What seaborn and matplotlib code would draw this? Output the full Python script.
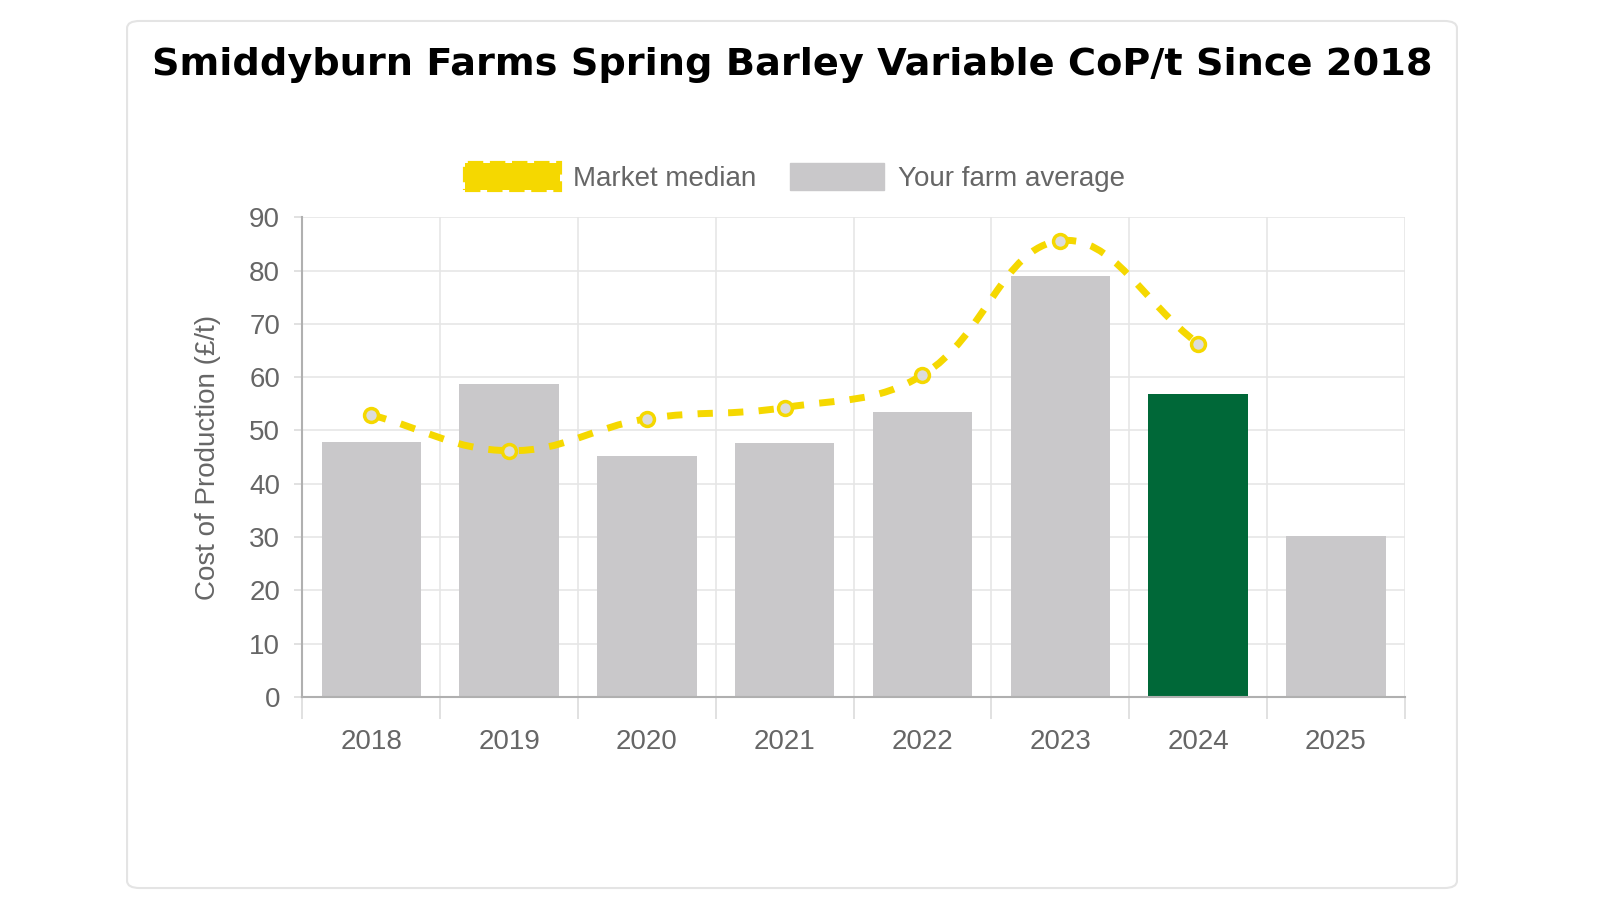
import numpy as np
import pandas as pd
import matplotlib
matplotlib.use("Agg")
import matplotlib.pyplot as plt
from matplotlib.path import Path
from matplotlib.patches import PathPatch, Patch, FancyBboxPatch
import seaborn as sns

# data
years = ["2018", "2019", "2020", "2021", "2022", "2023", "2024", "2025"]
farm_avg = [47.8, 58.7, 45.3, 47.6, 53.5, 78.9, 56.8, 30.2]
market_median = [52.9, 46.2, 52.2, 54.3, 60.4, 85.6, 66.3]
highlight_year = "2024"

GREY = "#c9c8ca"
GREEN = "#006838"
YELLOW = "#f5d800"
TXT = "#666666"

sns.set_style("white")
plt.rcParams["font.family"] = ["Liberation Sans", "DejaVu Sans"]

df = pd.DataFrame({"year": years, "cost": farm_avg})
palette = {y: (GREEN if y == highlight_year else GREY) for y in years}

fig = plt.figure(figsize=(16, 9), dpi=100)
# card border
fig.patches.append(FancyBboxPatch((0.0794, 0.0133), 0.8312, 0.9634,
                                  boxstyle="round,pad=0,rounding_size=0.008",
                                  transform=fig.transFigure, facecolor="none",
                                  edgecolor="#e4e4e4", linewidth=1.5, zorder=-1))
fig.text(0.495, 0.928, "Smiddyburn Farms Spring Barley Variable CoP/t Since 2018",
         ha="center", va="center", fontsize=27.5, fontweight="bold",
         family=["DejaVu Sans"], color="black")

ax = fig.add_axes([0.189, 0.2256, 0.689, 0.533])
ax.set_facecolor("none")
sns.barplot(data=df, x="year", y="cost", hue="year", palette=palette,
            order=years, width=0.72, legend=False, ax=ax, zorder=2,
            edgecolor="none", saturation=1)

# smoothed market median line (Chart.js style bezier, tension 0.4)
xs = np.arange(len(market_median), dtype=float)
ys = np.array(market_median, dtype=float)
sx, sy = 138.0, 5.33  # px per unit, used for distances
tension = 0.4
cp_prev, cp_next = [], []
for i in range(len(xs)):
    p = np.array([xs[max(i - 1, 0)], ys[max(i - 1, 0)]])
    c = np.array([xs[i], ys[i]])
    n = np.array([xs[min(i + 1, len(xs) - 1)], ys[min(i + 1, len(xs) - 1)]])
    d01 = np.hypot((c[0] - p[0]) * sx, (c[1] - p[1]) * sy)
    d12 = np.hypot((n[0] - c[0]) * sx, (n[1] - c[1]) * sy)
    tot = d01 + d12 if d01 + d12 > 0 else 1
    fa, fb = tension * d01 / tot, tension * d12 / tot
    cp_prev.append(c - fa * (n - p))
    cp_next.append(c + fb * (n - p))
verts = [(xs[0], ys[0])]
codes = [Path.MOVETO]
for i in range(len(xs) - 1):
    verts += [tuple(cp_next[i]), tuple(cp_prev[i + 1]), (xs[i + 1], ys[i + 1])]
    codes += [Path.CURVE4] * 3
ax.add_patch(PathPatch(Path(verts, codes), facecolor="none", edgecolor=YELLOW,
                       linewidth=5, linestyle=(0, (2.2, 2.2)), zorder=4,
                       capstyle="butt"))
ax.plot(xs, ys, linestyle="none", marker="o", markersize=10,
        markerfacecolor="#dcdcdc", markeredgecolor=YELLOW, markeredgewidth=2.5,
        zorder=5)

ax.set_xlim(-0.5, len(years) - 0.5)
ax.set_ylim(0, 90)
ax.set_yticks(range(0, 91, 10))
ax.set_xticks(np.arange(-0.5, len(years), 1.0), minor=True)
ax.grid(True, axis="y", color="#e6e6e6", linewidth=1.2, zorder=0)
ax.grid(True, axis="x", which="minor", color="#e6e6e6", linewidth=1.2, zorder=0)
ax.set_axisbelow(True)
for s in ["top", "right"]:
    ax.spines[s].set_visible(False)
ax.spines["left"].set_color("#b0b0b0")
ax.spines["bottom"].set_color("#b0b0b0")
ax.spines["left"].set_linewidth(1.5)
ax.spines["bottom"].set_linewidth(1.5)
ax.tick_params(axis="x", which="major", bottom=False, length=0, pad=23,
               labelsize=20, labelcolor=TXT)
ax.tick_params(axis="x", which="minor", bottom=True, length=16, color="#dcdcdc",
               width=1.2)
ax.tick_params(axis="y", left=True, length=6, color="#dcdcdc", width=1.2, pad=10,
               labelsize=20, labelcolor=TXT)
ax.set_xlabel("")
ax.set_ylabel("Cost of Production (£/t)", fontsize=20, color=TXT, labelpad=20)

handles = [Patch(facecolor=YELLOW, edgecolor=YELLOW, linestyle="--", linewidth=3),
           Patch(facecolor=GREY, edgecolor=GREY)]
fig.legend(handles, ["Market median", "Your farm average"], loc="center",
           bbox_to_anchor=(0.497, 0.803), ncol=2, frameon=False, fontsize=20,
           labelcolor=TXT, handlelength=3.4, handleheight=1.1, columnspacing=1.2,
           handletextpad=0.5)

fig.savefig("out.png", dpi=100, facecolor="white")
